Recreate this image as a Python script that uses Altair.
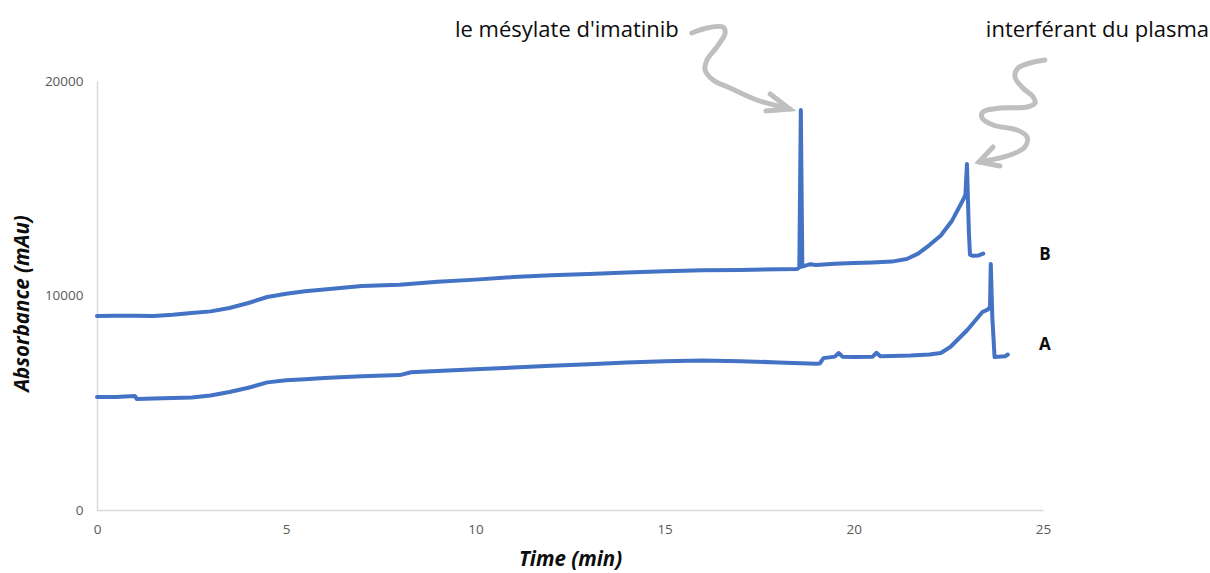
import altair as alt
import pandas as pd

# ---- data ----
b_time = [0, 0.5, 1, 1.5, 2, 2.5, 3, 3.5, 4, 4.5, 5, 5.5, 6, 7, 8, 9, 10, 11, 12, 13,
          14, 15, 16, 17, 18, 18.5, 18.56, 18.6, 18.64, 18.7, 18.85, 19, 19.5, 20, 20.5,
          21, 21.4, 21.7, 22, 22.3, 22.6, 22.9, 22.95, 22.99, 23.04, 23.07, 23.15, 23.3, 23.42]
b_abs = [9040, 9060, 9060, 9040, 9100, 9180, 9260, 9420, 9650, 9930, 10080, 10200, 10280,
         10440, 10500, 10640, 10740, 10860, 10940, 11000, 11070, 11130, 11180, 11190, 11220,
         11240, 11300, 18650, 11350, 11380, 11460, 11420, 11480, 11510, 11540, 11580, 11700,
         11950, 12350, 12800, 13500, 14500, 14700, 16130, 13000, 11900, 11850, 11870, 11950]

a_time = [0, 0.5, 1.0, 1.05, 1.5, 2, 2.5, 3, 3.5, 4, 4.5, 5, 5.5, 6, 7, 8, 8.3, 9, 10, 11,
          12, 13, 14, 15, 16, 17, 18, 19, 19.1, 19.2, 19.5, 19.6, 19.7, 20, 20.5, 20.6, 20.7,
          21, 21.5, 22, 22.3, 22.55, 23, 23.4, 23.55, 23.6, 23.62, 23.66, 23.72, 24.0, 24.07]
a_abs = [5270, 5270, 5320, 5180, 5200, 5220, 5250, 5340, 5500, 5700, 5950, 6050, 6100, 6150,
         6230, 6290, 6420, 6480, 6560, 6640, 6720, 6800, 6880, 6940, 6970, 6940, 6880, 6820,
         6830, 7080, 7150, 7320, 7150, 7130, 7150, 7330, 7170, 7180, 7200, 7250, 7320, 7600,
         8390, 9230, 9350, 9480, 11470, 9000, 7130, 7170, 7250]

series_labels = ["B", "A"]
series_label_time = [25.05, 25.05]
series_label_abs = [11890, 7690]

annot_texts = ["le mésylate d'imatinib", "interférant du plasma"]
annot_time = [9.46, 23.49]
annot_abs = [22380, 22380]

# wavy annotation arrows (in data units)
arrow1_t = [15.72, 16.12, 16.54, 16.60, 16.38, 16.12, 16.07, 16.28, 16.73, 17.44, 18.31]
arrow1_v = [22238, 22471, 22518, 22238, 21585, 20979, 20513, 20047, 19674, 19114, 18695]
head1_t = [17.79, 18.31, 17.68]
head1_v = [19394, 18695, 18601]

arrow2_t = [25.05, 24.66, 24.34, 24.26, 24.44, 24.74, 24.79, 24.58, 23.86, 23.41, 23.39,
            23.68, 24.31, 24.58, 24.52, 24.13, 23.31]
arrow2_v = [20979, 20839, 20606, 20187, 19720, 19254, 18974, 18788, 18741, 18555, 18275,
            17949, 17716, 17389, 16923, 16550, 16224]
head2_t = [23.68, 23.31, 23.86]
head2_v = [16923, 16224, 16037]

# ---- tables ----
series_df = pd.concat([
    pd.DataFrame({"t": b_time, "v": b_abs, "s": "B", "i": range(len(b_time))}),
    pd.DataFrame({"t": a_time, "v": a_abs, "s": "A", "i": range(len(a_time))}),
])

curve_df = pd.concat([
    pd.DataFrame({"t": arrow1_t, "v": arrow1_v, "g": "a1", "i": range(len(arrow1_t))}),
    pd.DataFrame({"t": arrow2_t, "v": arrow2_v, "g": "a2", "i": range(len(arrow2_t))}),
])
head_df = pd.concat([
    pd.DataFrame({"t": head1_t, "v": head1_v, "g": "h1", "i": range(3)}),
    pd.DataFrame({"t": head2_t, "v": head2_v, "g": "h2", "i": range(3)}),
])
label_df = pd.DataFrame({"t": series_label_time, "v": series_label_abs, "txt": series_labels})
annot_df = pd.DataFrame({"t": annot_time, "v": annot_abs, "txt": annot_texts})

xscale = alt.Scale(domain=[0, 25], nice=False)
yscale = alt.Scale(domain=[0, 20000], nice=False)

x_axis = alt.Axis(values=[0, 5, 10, 15, 20, 25], title="Time (min)", grid=False, ticks=False,
                  domainColor="#d9d9d9", domainWidth=1.5, labelColor="#595959",
                  labelFont="Open Sans", labelFontSize=13.5, labelPadding=12, labelFlush=False,
                  titleFont="Open Sans", titleFontSize=20.5, titleFontWeight="bold",
                  titleFontStyle="italic", titleColor="#0d0d0d", titleY=39)
y_axis = alt.Axis(values=[0, 10000, 20000], format="d", title="Absorbance (mAu)", grid=False,
                  ticks=False, domainColor="#d9d9d9", domainWidth=1.5, labelColor="#595959",
                  labelFont="Open Sans", labelFontSize=13.5, labelPadding=14, labelFlush=False,
                  titleFont="Open Sans", titleFontSize=20.5, titleFontWeight="bold",
                  titleFontStyle="italic", titleColor="#0d0d0d", titleX=-65, titleY=222)

lines = alt.Chart(series_df).mark_line(color="#4472c4", strokeWidth=4, strokeJoin="round",
                                        strokeCap="round").encode(
    x=alt.X("t:Q", scale=xscale, axis=x_axis),
    y=alt.Y("v:Q", scale=yscale, axis=y_axis),
    detail="s:N",
    order="i:Q",
)

curves = alt.Chart(curve_df).mark_line(color="#bfbfbf", strokeWidth=5, strokeCap="round",
                                        interpolate="catmull-rom").encode(
    x=alt.X("t:Q", scale=xscale), y=alt.Y("v:Q", scale=yscale), detail="g:N", order="i:Q")

heads = alt.Chart(head_df).mark_line(color="#bfbfbf", strokeWidth=5, strokeCap="round",
                                      strokeJoin="miter").encode(
    x=alt.X("t:Q", scale=xscale), y=alt.Y("v:Q", scale=yscale), detail="g:N", order="i:Q")

labels = alt.Chart(label_df).mark_text(font="Open Sans", fontSize=17, fontWeight="bold",
                                       color="#0d0d0d", align="center", baseline="middle").encode(
    x=alt.X("t:Q", scale=xscale), y=alt.Y("v:Q", scale=yscale), text="txt:N")

annots = alt.Chart(annot_df).mark_text(font="Open Sans", fontSize=22, color="#0d0d0d",
                                       align="left", baseline="middle").encode(
    x=alt.X("t:Q", scale=xscale), y=alt.Y("v:Q", scale=yscale), text="txt:N")

chart = alt.layer(lines, curves, heads, labels, annots).properties(
    width=946, height=429,
    padding={"left": 97, "top": 81, "right": 167, "bottom": 63},
    autosize="none",
    background="white",
).configure_view(stroke=None)

chart.save("out.html", embed_options={"renderer": "svg", "actions": False})
